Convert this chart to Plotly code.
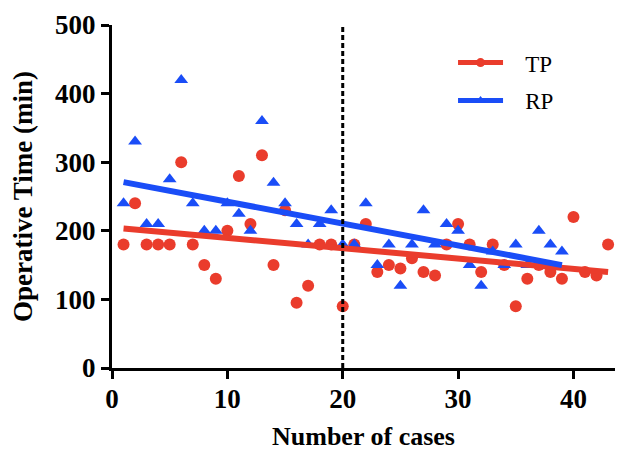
import numpy as np
import plotly.graph_objects as go

tp_x = list(range(1, 44))
tp_y = [180, 240, 180, 180, 180, 300, 180, 150, 130, 200, 280, 210, 310, 150, 230,
        95, 120, 180, 180, 90, 180, 210, 140, 150, 145, 160, 140, 135, 180, 210,
        180, 140, 180, 150, 90, 130, 150, 140, 130, 220, 140, 135, 180]
rp_x = list(range(1, 40))
rp_y = [240, 330, 210, 210, 275, 420, 240, 200, 200, 240, 225, 200, 360, 270, 240,
        210, 180, 210, 230, 180, 180, 240, 150, 180, 120, 180, 230, 180, 210, 200,
        150, 120, 170, 150, 180, 150, 200, 180, 170]
x_ticks = [0, 10, 20, 30, 40]
y_ticks = [0, 100, 200, 300, 400, 500]
divider_x = 20

RED = "#EA3C2C"
BLUE = "#1A4DF7"
FONT = "Liberation Serif"

def fit(xs, ys):
    m, b = np.polyfit(xs, ys, 1)
    xx = [min(xs), max(xs)]
    return xx, [m * v + b for v in xx]

fig = go.Figure()
fig.add_trace(go.Scatter(x=tp_x, y=tp_y, mode="markers", showlegend=False,
                         marker=dict(color=RED, size=12, symbol="circle")))
fig.add_trace(go.Scatter(x=rp_x, y=rp_y, mode="markers", showlegend=False,
                         marker=dict(color=BLUE, size=12, symbol="triangle-up")))
fx, fy = fit(tp_x, tp_y)
fig.add_trace(go.Scatter(x=fx, y=fy, mode="lines", showlegend=False,
                         line=dict(color=RED, width=6)))
fx, fy = fit(rp_x, rp_y)
fig.add_trace(go.Scatter(x=fx, y=fy, mode="lines", showlegend=False,
                         line=dict(color=BLUE, width=6)))
# legend entries
fig.add_trace(go.Scatter(x=[None], y=[None], mode="lines+markers", name="\u00a0\u00a0\u00a0TP", legendgroup="a",
                         line=dict(color=RED, width=5), marker=dict(color=RED, size=9, symbol="circle")))
fig.add_trace(go.Scatter(x=[None], y=[None], mode="lines+markers", name="\u00a0\u00a0\u00a0RP", legendgroup="b",
                         line=dict(color=BLUE, width=5), marker=dict(color=BLUE, size=9, symbol="triangle-up")))

fig.add_shape(type="line", x0=divider_x, x1=divider_x, y0=0, y1=505, xref="x", yref="y",
              line=dict(color="black", width=3, dash="5px,3px"))

axis_common = dict(showline=True, linecolor="black", linewidth=3, ticks="outside",
                   ticklen=8, tickwidth=3, tickcolor="black", showgrid=False, zeroline=False,
                   automargin=False,
                   tickfont=dict(family=FONT, size=27, color="black", weight="bold"))
fig.update_xaxes(range=[0, 43.6], tickvals=x_ticks, **axis_common, ticklabelstandoff=-3,
                 title=dict(text="<b>Number of cases</b>", font=dict(family=FONT, size=26, color="black"), standoff=14))
fig.update_yaxes(range=[0, 500], tickvals=y_ticks, **axis_common,
                 title=dict(text="<b>Operative Time (min)</b>", font=dict(family=FONT, size=27, color="black"), standoff=15))

fig.update_layout(
    width=628, height=455,
    margin=dict(l=112, r=13, t=25, b=87),
    plot_bgcolor="white", paper_bgcolor="white",
    legend=dict(x=0.678, y=0.953, xanchor="left", yanchor="top", tracegroupgap=5,
                font=dict(family=FONT, size=23, color="black"), bgcolor="rgba(0,0,0,0)",
                itemwidth=45),
)
fig.write_html("out.html", config={"displayModeBar": False},
               post_script="document.body.style.margin='0';document.body.style.overflow='hidden';")
